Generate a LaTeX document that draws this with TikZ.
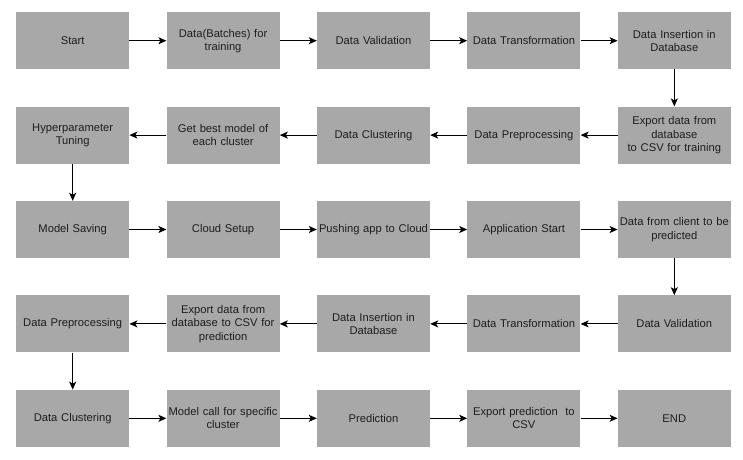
\documentclass[tikz,border=0pt]{standalone}
\usepackage{fontspec}
\setmainfont{Liberation Sans}
\usepackage{xcolor}
\usetikzlibrary{positioning, arrows.meta}

\definecolor{boxgray}{RGB}{168,168,168}
\definecolor{txtgray}{RGB}{30,30,30}

\tikzset{
	block/.style = {rectangle, fill = boxgray, text = txtgray, text width = 109pt, inner xsep = 2pt, inner ysep = 0pt,
		minimum height = 57pt, align = center, font = \fontsize{11.2}{13.2}\selectfont},
	line/.style = {draw, line width = 1.1pt, -{Stealth[length = 8pt, width = 7pt, inset = 2pt]}}
}

\begin{document}
\begin{tikzpicture}[node distance = 37pt, auto]
			\useasboundingbox (0pt, 0pt) rectangle (743pt, -459pt);
			% training pipeline
			\node [block, anchor = north west] (start) at (16pt, -12pt) {Start};
			\node [block, right = of start] (batches) {Data(Batches) for\\training};
			\node [block, right = of batches] (validation) {Data Validation};
			\node [block, right = of validation] (transform) {Data Transformation};
			\node [block, right = of transform] (insertion) {Data Insertion in\\Database};
			\node [block, below = of insertion] (export) {Export data from\\database\\to CSV for training};
			\node [block, left = of export] (preproc) {Data Preprocessing};
			\node [block, left = of preproc] (clustering) {Data Clustering};
			\node [block, left = of clustering] (bestmodel) {Get best model of\\each cluster};
			\node [block, left = of bestmodel] (tuning) {Hyperparameter\\Tuning};
			% deployment
			\node [block, below = of tuning] (saving) {Model Saving};
			\node [block, right = of saving] (cloud) {Cloud Setup};
			\node [block, right = of cloud] (pushing) {Pushing app to Cloud};
			\node [block, right = of pushing] (appstart) {Application Start};
			\node [block, right = of appstart] (client) {Data from client to be\\predicted};
			% prediction pipeline
			\node [block, below = of client] (validation2) {Data Validation};
			\node [block, left = of validation2] (transform2) {Data Transformation};
			\node [block, left = of transform2] (insertion2) {Data Insertion in\\Database};
			\node [block, left = of insertion2] (export2) {Export data from\\database to CSV for\\prediction};
			\node [block, left = of export2] (preproc2) {Data Preprocessing};
			\node [block, below = of preproc2] (clustering2) {Data Clustering};
			\node [block, right = of clustering2] (modelcall) {Model call for specific\\cluster};
			\node [block, right = of modelcall] (prediction) {Prediction};
			\node [block, right = of prediction] (exportpred) {Export prediction\ \ to\\CSV};
			\node [block, right = of exportpred] (finish) {END};
			
			\path [line] (start) -- (batches);
			\path [line] (batches) -- (validation);
			\path [line] (validation) -- (transform);
			\path [line] (transform) -- (insertion);
			\path [line] (insertion) -- (export);
			\path [line] (export) -- (preproc);
			\path [line] (preproc) -- (clustering);
			\path [line] (clustering) -- (bestmodel);
			\path [line] (bestmodel) -- (tuning);
			\path [line] (tuning) -- (saving);
			\path [line] (saving) -- (cloud);
			\path [line] (cloud) -- (pushing);
			\path [line] (pushing) -- (appstart);
			\path [line] (appstart) -- (client);
			\path [line] (client) -- (validation2);
			\path [line] (validation2) -- (transform2);
			\path [line] (transform2) -- (insertion2);
			\path [line] (insertion2) -- (export2);
			\path [line] (export2) -- (preproc2);
			\path [line] (preproc2) -- (clustering2);
			\path [line] (clustering2) -- (modelcall);
			\path [line] (modelcall) -- (prediction);
			\path [line] (prediction) -- (exportpred);
			\path [line] (exportpred) -- (finish);
		\end{tikzpicture}
\end{document}
